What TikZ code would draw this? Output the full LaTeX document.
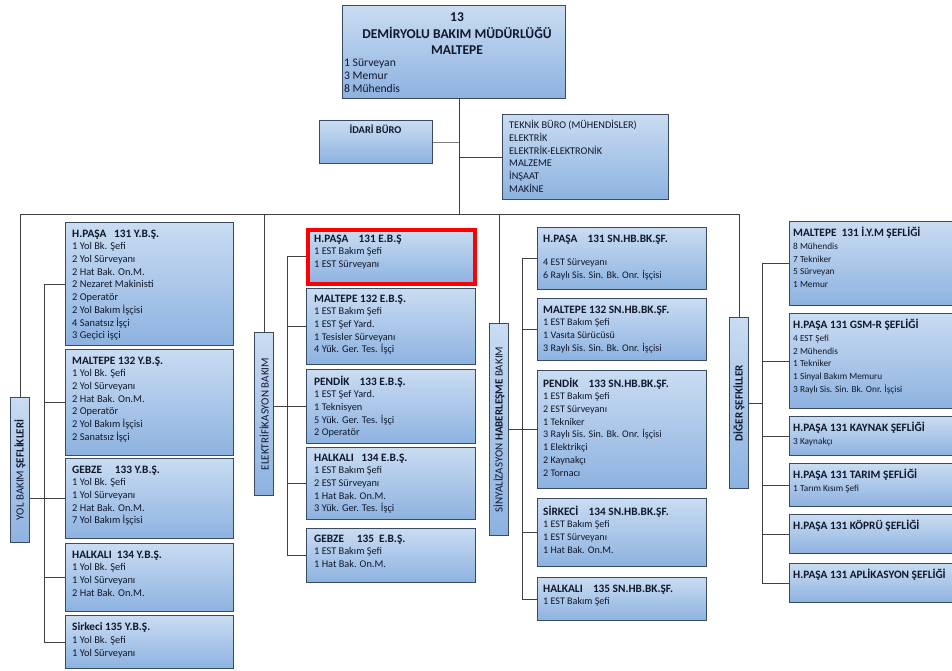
\documentclass[tikz,border=0pt]{standalone}
\usepackage{fontspec}
\setmainfont{Carlito}
\definecolor{boxtop}{HTML}{C9DCF2}
\definecolor{boxbot}{HTML}{8DB2E0}
\definecolor{bordercol}{HTML}{3A4A60}
\definecolor{textcol}{HTML}{10182A}
\definecolor{linecol}{HTML}{404040}
\newcommand\bsz{10.4}
\newcommand\tx{7}
\newcommand\ty{7}
\newcommand\ttl[1]{{\fontsize{11.3}{12.7}\selectfont\bfseries #1}}
\tikzset{
  obox/.style={rectangle, draw=bordercol, line width=1.1pt, top color=boxtop, bottom color=boxbot, inner sep=0pt},
  btext/.style={align=left, inner sep=0pt, text=textcol, font=\fontsize{\bsz}{12.7}\selectfont},
  vlabel/.style={rotate=90, inner sep=0pt, text=textcol, font=\fontsize{11}{12}\selectfont},
  conn/.style={draw=linecol, line width=0.9pt},
}
% \OBox[options]{name}{x1}{y1}{x2}{y2}{text}
\newcommand\OBox[7][]{%
  \node[obox,#1,anchor=north west,minimum width={#5-#3},minimum height={#6-#4}] (#2) at (#3,#4) {};
  \node[btext,anchor=north west] (#2-t) at ([xshift=\tx pt,yshift=-\ty pt]#2.north west) {#7};
}
\begin{document}
\begin{tikzpicture}[x=1pt,y=-1pt]
\useasboundingbox (0,0) rectangle (952,671);
\clip (0,0) rectangle (952,671);
\fill[white] (0,0) rectangle (952,671);

% ---------- top ----------
\node[obox,anchor=north west,minimum width=223,minimum height=93] (main) at (342,5) {};
\node[inner sep=0pt, align=center, text=textcol, font=\fontsize{13.5}{16.6}\selectfont\bfseries, anchor=north] (main-t) at (457,12.5) {13\\DEMİRYOLU BAKIM MÜDÜRLÜĞÜ\\MALTEPE};
\node[inner sep=0pt, align=left, text=textcol, font=\fontsize{11.6}{12.6}\selectfont, anchor=north west] (main-b) at (344,59) {1 Sürveyan\\3 Memur\\8 Mühendis};

\node[obox,anchor=north west,minimum width=113,minimum height=43] (idari) at (319,120) {};
\node[inner sep=0pt, text=textcol, font=\fontsize{10.4}{12}\selectfont\bfseries] (idari-t) at (375.5,129) {İDARİ BÜRO};

\renewcommand\bsz{10.3}\renewcommand\ty{6}
\OBox{teknik}{502}{114}{668}{199}{TEKNİK BÜRO (MÜHENDİSLER)\\ELEKTRİK\\ELEKTRİK-ELEKTRONİK\\MALZEME\\İNŞAAT\\MAKİNE}

% ---------- vertical labels ----------
\node[obox,anchor=north west,minimum width=19,minimum height=145] (yol) at (10,397) {};
\node[vlabel] (yol-t) at (yol.center) {YOL BAKIM \textbf{ŞEFLİKLERİ}};
\node[obox,anchor=north west,minimum width=19,minimum height=163] (elek) at (254,332) {};
\node[vlabel] (elek-t) at (elek.center) {ELEKTRİFİKASYON BAKIM};
\node[obox,anchor=north west,minimum width=19,minimum height=212] (sinyal) at (489,323) {};
\node[vlabel] (sinyal-t) at (sinyal.center) {SİNYALİZASYON \textbf{HABERLEŞME} BAKIM};
\node[obox,anchor=north west,minimum width=19,minimum height=171] (diger) at (729,317) {};
\node[vlabel] (diger-t) at (diger.center) {\textbf{DİĞER ŞEFKİLLER}};

% ---------- Yol column ----------
\renewcommand\bsz{10.4}\renewcommand\tx{7}\renewcommand\ty{7.5}
\OBox{yb1}{65}{222}{233}{345}{\ttl{H.PAŞA~~~131 Y.B.Ş.}\\1 Yol Bk. Şefi\\2 Yol Sürveyanı\\2 Hat Bak. On.M.\\2 Nezaret Makinisti\\2 Operatör\\2 Yol Bakım İşçisi\\4 Sanatsız İşçi\\3 Geçici işçi}
\OBox{yb2}{65}{349}{233}{455}{\ttl{MALTEPE 132 Y.B.Ş.}\\1 Yol Bk. Şefi\\2 Yol Sürveyanı\\2 Hat Bak. On.M.\\2 Operatör\\2 Yol Bakım İşçisi\\2 Sanatsız İşçi}
\OBox{yb3}{65}{458}{233}{538}{\ttl{GEBZE~~~~~133 Y.B.Ş.}\\1 Yol Bk. Şefi\\1 Yol Sürveyanı\\2 Hat Bak. On.M.\\7 Yol Bakım İşçisi}
\OBox{yb4}{65}{543}{233}{611}{\ttl{HALKALI~~134 Y.B.Ş.}\\1 Yol Bk. Şefi\\1 Yol Sürveyanı\\2 Hat Bak. On.M.}
\OBox{yb5}{65}{615}{233}{668}{\ttl{Sirkeci 135 Y.B.Ş.}\\1 Yol Bk. Şefi\\1 Yol Sürveyanı}

% ---------- Elektrifikasyon column ----------
\renewcommand\bsz{10.3}\renewcommand\tx{8}\renewcommand\ty{6.5}
\OBox[draw=red,line width=3.6pt]{eb1}{306}{228}{473}{282}{\ttl{H.PAŞA~~~~131 E.B.Ş}\\1 EST Bakım Şefi\\1 EST Sürveyanı}
\OBox{eb2}{306}{288}{475}{364}{\ttl{MALTEPE 132 E.B.Ş.}\\1 EST Bakım Şefi\\1 EST Şef Yard.\\1 Tesisler Sürveyanı\\4 Yük. Ger. Tes. İşçi}
\OBox{eb3}{306}{369}{475}{443}{\ttl{PENDİK~~~~133 E.B.Ş.}\\1 EST Şef Yard.\\1 Teknisyen\\5 Yük. Ger. Tes. İşçi\\2 Operatör}
\OBox{eb4}{306}{447}{475}{519}{\ttl{HALKALI~~~134 E.B.Ş.}\\1 EST Bakım Şefi\\2 EST Sürveyanı\\1 Hat Bak. On.M.\\3 Yük. Ger. Tes. İşçi}
\OBox{eb5}{306}{528}{475}{582}{\ttl{GEBZE~~~~~135~~E.B.Ş.}\\1 EST Bakım Şefi\\1 Hat Bak. On.M.}

% ---------- Sinyalizasyon column ----------
\renewcommand\bsz{10.1}\renewcommand\tx{6}\renewcommand\ty{7.5}
\OBox{sb1}{537}{227}{706}{289}{\ttl{H.PAŞA~~~~131 SN.HB.BK.ŞF.}\\[11pt]4 EST Sürveyanı\\6 Raylı Sis. Sin. Bk. Onr. İşçisi}
\OBox{sb2}{537}{298}{706}{360}{\ttl{MALTEPE 132 SN.HB.BK.ŞF.}\\1 EST Bakım Şefi\\1 Vasıta Sürücüsü\\3 Raylı Sis. Sin. Bk. Onr. İşçisi}
\OBox{sb3}{537}{370}{706}{488}{\ttl{PENDİK~~~~133 SN.HB.BK.ŞF.}\\1 EST Bakım Şefi\\2 EST Sürveyanı\\1 Tekniker\\3 Raylı Sis. Sin. Bk. Onr. İşçisi\\1 Elektrikçi\\2 Kaynakçı\\2 Tornacı}
\OBox{sb4}{537}{498}{706}{566}{\ttl{SİRKECİ~~~~134 SN.HB.BK.ŞF.}\\1 EST Bakım Şefi\\1 EST Sürveyanı\\1 Hat Bak. On.M.}
\OBox{sb5}{537}{577}{706}{620}{\ttl{HALKALI~~~~135 SN.HB.BK.ŞF.}\\1 EST Bakım Şefi}

% ---------- Diğer column ----------
\renewcommand\bsz{9.3}\renewcommand\tx{4}\renewcommand\ty{6}
\OBox{db1}{789}{221}{962}{305}{\ttl{MALTEPE~~131 İ.Y.M ŞEFLİĞİ}\\8 Mühendis\\7 Tekniker\\5 Sürveyan\\1 Memur}
\OBox{db2}{789}{313}{962}{408}{\ttl{H.PAŞA 131 GSM-R ŞEFLİĞİ}\\4 EST Şefi\\2 Mühendis\\1 Tekniker\\1 Sinyal Bakım Memuru\\3 Raylı Sis. Sin. Bk. Onr. İşçisi}
\OBox{db3}{789}{416}{962}{455}{\ttl{H.PAŞA 131 KAYNAK ŞEFLİĞİ}\\3 Kaynakçı}
\OBox{db4}{789}{463}{962}{506}{\ttl{H.PAŞA 131 TARIM ŞEFLİĞİ}\\1 Tarım Kısım Şefi}
\OBox{db5}{789}{514}{962}{553}{\ttl{H.PAŞA 131 KÖPRÜ ŞEFLİĞİ}}
\OBox{db6}{789}{563}{962}{602}{\ttl{H.PAŞA 131 APLİKASYON ŞEFLİĞİ}}

% ---------- connectors ----------
\coordinate (trunkTop) at (459,98);
\coordinate (trunkBot) at (459,214);
\coordinate (busL) at (yol.north |- trunkBot);
\coordinate (busR) at (diger.north |- trunkBot);
\coordinate (sy) at (44,0);
\coordinate (se) at (287,0);
\coordinate (ss) at (522,0);
\coordinate (sd) at (762,0);

\draw[conn] (trunkTop) -- (trunkBot);
\draw[conn] (busL) -- (busR);
\draw[conn, draw=gray] (idari.east) -- (idari.east -| trunkTop);
\draw[conn] (teknik.west) -- (teknik.west -| trunkTop);

\draw[conn] (busL) -- (yol.north);
\draw[conn] (elek.north |- busL) -- (elek.north);
\draw[conn] (sinyal.north |- busL) -- (sinyal.north);
\draw[conn] (busR) -- (diger.north);

% yol
\draw[conn] (yb1.west -| sy) -- (yb5.west -| sy);
\foreach \b in {yb1,yb2,yb3,yb4,yb5} \draw[conn] (\b.west -| sy) -- (\b.west);
\draw[conn] (yol.east |- yb3.west) -- (yb3.west -| sy);
% elek
\draw[conn] (eb1.west -| se) -- (eb5.west -| se);
\foreach \b in {eb1,eb2,eb3,eb4,eb5} \draw[conn] (\b.west -| se) -- (\b.west);
\draw[conn] (elek.east |- eb3.west) -- (eb3.west -| se);
% sinyal
\draw[conn] (sb1.west -| ss) -- (sb5.west -| ss);
\foreach \b in {sb1,sb2,sb3,sb4,sb5} \draw[conn] (\b.west -| ss) -- (\b.west);
\draw[conn] (sinyal.east) -- (sinyal.east -| ss);
% diger
\draw[conn] (db1.west -| sd) -- (db6.west -| sd);
\foreach \b in {db1,db2,db3,db4,db5,db6} \draw[conn] (\b.west -| sd) -- (\b.west);
\draw[conn] (diger.east) -- (diger.east -| sd);
\end{tikzpicture}
\end{document}
